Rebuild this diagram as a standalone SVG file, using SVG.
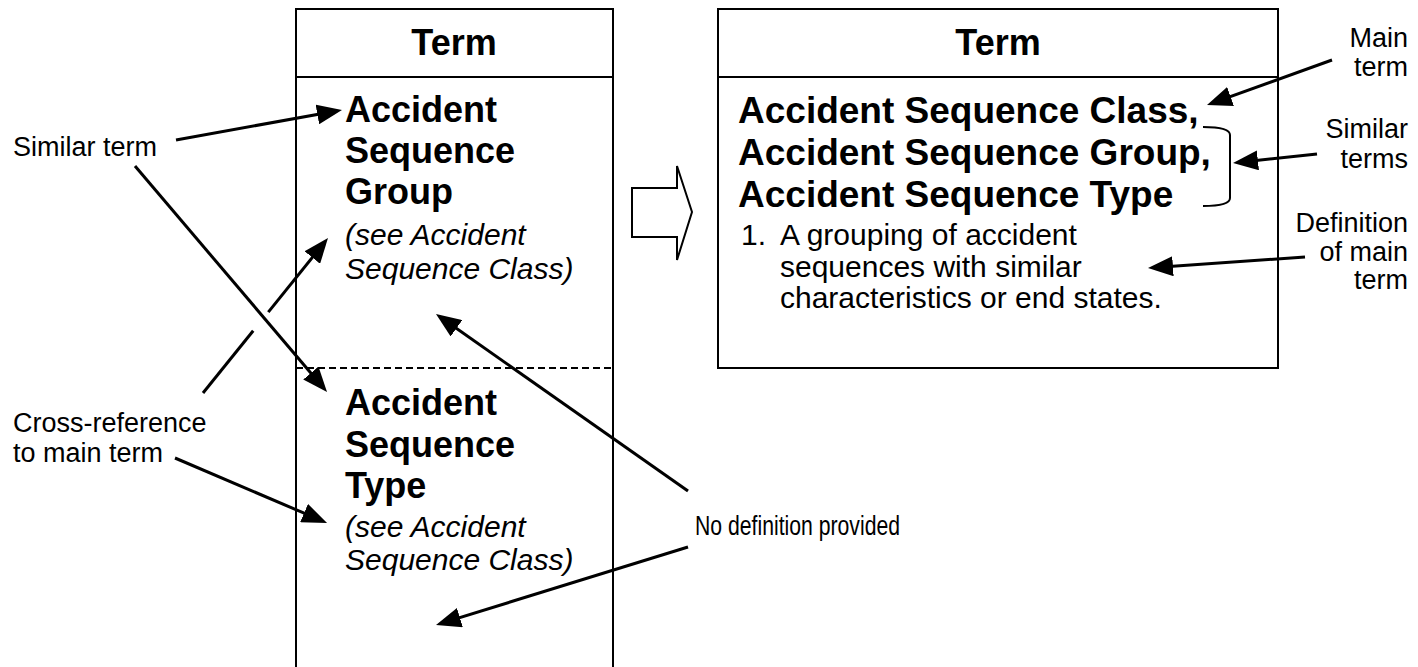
<svg xmlns="http://www.w3.org/2000/svg" width="1418" height="667" viewBox="0 0 1418 667">
<style>
.b{stroke:#000;stroke-width:2;fill:none}
.h{font-family:"Liberation Sans",Arial,sans-serif;font-weight:bold;font-size:36px;fill:#000}
.h2{font-family:"Liberation Sans",Arial,sans-serif;font-weight:bold;font-size:37px;fill:#000}
.i{font-family:"Liberation Sans",Arial,sans-serif;font-style:italic;font-size:30px;fill:#000}
.r{font-family:"Liberation Sans",Arial,sans-serif;font-size:30px;fill:#000}
.l{font-family:"Liberation Sans",Arial,sans-serif;font-size:27px;fill:#000}
.c{stroke:#000;stroke-width:3;fill:none}
.a{marker-end:url(#ah)}
</style>
<defs>
<marker id="ah" markerUnits="userSpaceOnUse" viewBox="0 0 25 20" refX="18" refY="10" markerWidth="25" markerHeight="20" orient="auto">
<path d="M0,0 L25,10 L0,20 z" fill="#000"/>
</marker>
</defs>
<rect width="1418" height="667" fill="#fff"/>
<g id="left-table">
<path class="b" d="M296,667 L296,9 L613,9 L613,667 M296,77 L613,77"/>
<line x1="296" y1="368" x2="613" y2="368" stroke="#000" stroke-width="2" stroke-dasharray="7,4"/>
<text class="h" x="454" y="55" text-anchor="middle">Term</text>
</g>
<g id="entry-group">
<text class="h" x="345" y="122">Accident</text>
<text class="h" x="345" y="163">Sequence</text>
<text class="h" x="345" y="204">Group</text>
<text class="i" x="345" y="245">(see Accident</text>
<text class="i" x="345" y="279">Sequence Class)</text>
</g>
<g id="entry-type">
<text class="h" x="345" y="415">Accident</text>
<text class="h" x="345" y="457">Sequence</text>
<text class="h" x="345" y="498">Type</text>
<text class="i" x="345" y="537">(see Accident</text>
<text class="i" x="345" y="570">Sequence Class)</text>
</g>
<g id="block-arrow">
<polygon class="b" points="632,188 677,188 677,166 692,212 677,260 677,237 632,237"/>
</g>
<g id="right-table">
<rect class="b" x="718" y="9" width="560" height="359"/>
<line class="b" x1="718" y1="77" x2="1278" y2="77"/>
<text class="h" x="998" y="55" text-anchor="middle">Term</text>
<text class="h2" x="738" y="123">Accident Sequence Class,</text>
<text class="h2" x="738" y="165">Accident Sequence Group,</text>
<text class="h2" x="738" y="207">Accident Sequence Type</text>
<text class="r" x="741" y="245">1.</text>
<text class="r" x="780" y="245">A grouping of accident</text>
<text class="r" x="780" y="277">sequences with similar</text>
<text class="r" x="780" y="308">characteristics or end states.</text>
<path class="b" d="M1203,127 Q1230,127 1230,135 L1230,198 Q1230,206 1203,206"/>
</g>
<g id="label-similar-term">
<text class="l" x="13" y="156">Similar term</text>
</g>
<g id="label-cross-reference">
<text class="l" x="13" y="432">Cross-reference</text>
<text class="l" x="13" y="462">to main term</text>
</g>
<g id="label-no-definition">
<text class="l" x="695" y="535" font-size="25" textLength="205" lengthAdjust="spacingAndGlyphs">No definition provided</text>
</g>
<g id="label-main-term">
<text class="l" x="1408" y="47" text-anchor="end">Main</text>
<text class="l" x="1408" y="76" text-anchor="end">term</text>
</g>
<g id="label-similar-terms">
<text class="l" x="1408" y="138" text-anchor="end">Similar</text>
<text class="l" x="1408" y="168" text-anchor="end">terms</text>
</g>
<g id="label-definition">
<text class="l" x="1408" y="232" text-anchor="end">Definition</text>
<text class="l" x="1408" y="261" text-anchor="end">of main</text>
<text class="l" x="1408" y="289" text-anchor="end">term</text>
</g>
<g id="connectors">
<line class="c a" x1="176" y1="140" x2="335.1" y2="111.2"/>
<line class="c a" x1="135" y1="166" x2="322.5" y2="386.7"/>
<line class="c" x1="203" y1="393" x2="253.2" y2="330.8"/>
<line class="c a" x1="268.3" y1="312.1" x2="323.6" y2="243.5"/>
<line class="c a" x1="175" y1="458" x2="320.6" y2="520.2"/>
<line class="c a" x1="688" y1="491" x2="441.7" y2="318"/>
<line class="c a" x1="688" y1="547" x2="442.7" y2="622.9"/>
<line class="c a" x1="1332" y1="60" x2="1213.6" y2="102.6"/>
<line class="c a" x1="1317" y1="154" x2="1240" y2="162.3"/>
<line class="c a" x1="1305" y1="257" x2="1155" y2="267.5"/>
</g>
</svg>
